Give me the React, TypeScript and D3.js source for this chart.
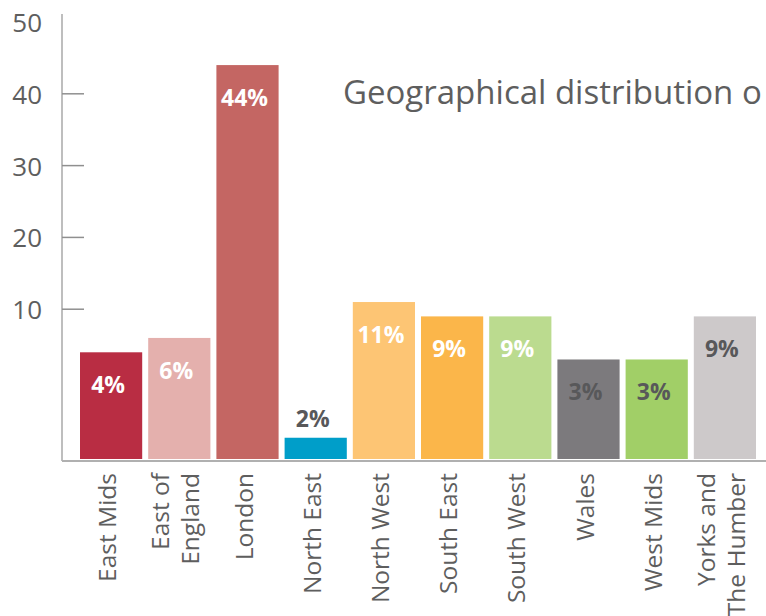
import * as d3 from 'd3';

const regions = [
  'East Mids',
  'East of England',
  'London',
  'North East',
  'North West',
  'South East',
  'South West',
  'Wales',
  'West Mids',
  'Yorks and The Humber',
];
// bar tops as read against the left axis
const barValues = [4, 6, 44, -7.9, 11, 9, 9, 3, 3, 9];
const barLabels = ['4%', '6%', '44%', '2%', '11%', '9%', '9%', '3%', '3%', '9%'];
const tickValues = [10, 20, 30, 40, 50];
const axisMin = -11;
const axisMax = 50;

// category wrapping as in the original
const regionLines: Record<string, string[]> = {
  'East of England': ['East of', 'England'],
  'Yorks and The Humber': ['Yorks and', 'The Humber'],
};

const barColors = [
  '#b92d43', '#e4b0ad', '#c46663', '#009ec9', '#fdc574',
  '#fbb64a', '#bbdb8f', '#7c7a7d', '#a1cf67', '#cdc9ca',
];
const labelColors = [
  '#ffffff', '#ffffff', '#ffffff', '#58585a', '#ffffff',
  '#ffffff', '#ffffff', '#58585a', '#58585a', '#58585a',
];

const width = 766;
const height = 616;
const axisX = 62;
const font = "'Open Sans', sans-serif";
const textColor = '#5e5e5e';

export default function App() {
  const x = d3
    .scaleBand<string>()
    .domain(regions)
    .range([77, 759])
    .paddingInner(0.088)
    .paddingOuter(0.044);

  const y = d3.scaleLinear().domain([axisMin, axisMax]).range([460, 22]);
  const bottom = y(axisMin) - 1;

  return (
    <svg
      width={width}
      height={height}
      style={{ position: 'absolute', left: 0, top: 0, background: '#fff' }}
    >
      {/* y axis */}
      <line x1={axisX} x2={axisX} y1={14} y2={bottom + 2} stroke="#a8a8a8" strokeWidth={1.5} />
      {tickValues.map((t) => (
        <g key={t}>
          {t < axisMax && (
            <line x1={axisX} x2={axisX + 22} y1={y(t)} y2={y(t)} stroke="#8f8f8f" strokeWidth={1.5} />
          )}
          <text
            x={42}
            y={y(t)}
            textAnchor="end"
            dominantBaseline="central"
            fontFamily={font}
            fontSize={26}
            fill={textColor}
          >
            {t}
          </text>
        </g>
      ))}

      {/* bars */}
      {regions.map((r, i) => (
        <rect
          key={r}
          x={x(r)}
          y={y(barValues[i])}
          width={x.bandwidth()}
          height={bottom - y(barValues[i])}
          fill={barColors[i]}
        />
      ))}

      {/* baseline */}
      <line x1={axisX} x2={width} y1={bottom + 2} y2={bottom + 2} stroke="#b0b0b0" strokeWidth={2} />

      {/* value labels */}
      {regions.map((r, i) => {
        const top = y(barValues[i]);
        const short = bottom - top < 50;
        return (
          <text
            key={r}
            x={(x(r) as number) + x.bandwidth() / 2 - 3}
            y={short ? top - 11 : top + 41}
            textAnchor="middle"
            fontFamily={font}
            fontWeight={700}
            fontSize={23}
            fill={short ? '#58585a' : labelColors[i]}
          >
            {barLabels[i]}
          </text>
        );
      })}

      {/* category labels */}
      {regions.map((r) => {
        const lines = regionLines[r] || [r];
        const cx = (x(r) as number) + x.bandwidth() / 2;
        return (
          <g key={r} transform={`translate(${cx},473) rotate(-90)`}>
            {lines.map((l, j) => (
              <text
                key={l}
                x={0}
                y={5 + (j - (lines.length - 1) / 2) * 30}
                textAnchor="end"
                fontFamily={font}
                fontSize={24.5}
                fill={textColor}
              >
                {l}
              </text>
            ))}
          </g>
        );
      })}

      <text x={343} y={104} fontFamily={font} fontSize={33} fill={textColor}>
        Geographical distribution o
      </text>
    </svg>
  );
}
